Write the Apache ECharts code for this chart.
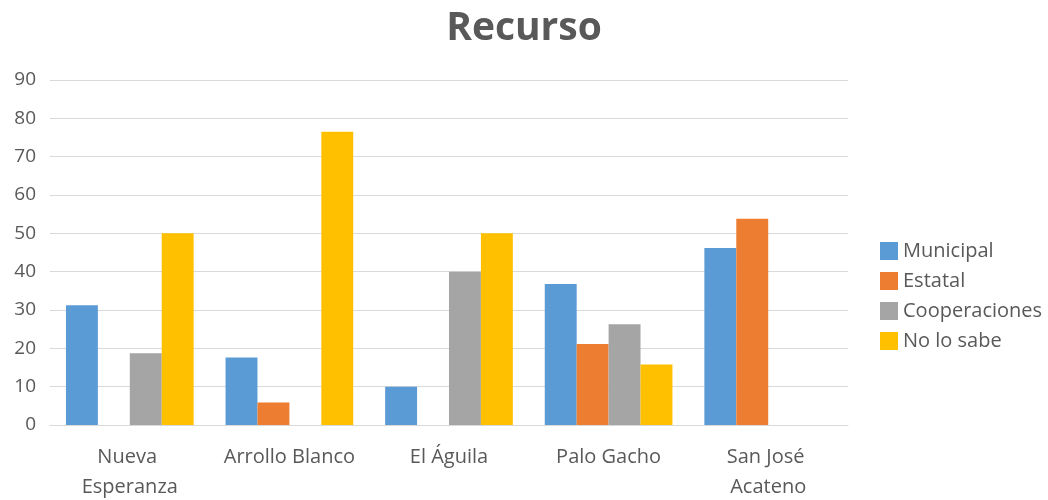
<!DOCTYPE html>
<html>
<head>
<meta charset="utf-8">
<script src="https://cdn.jsdelivr.net/npm/echarts@6/dist/echarts.min.js"></script>
<style>
  html, body { margin: 0; padding: 0; background: #fff; }
  #chart { width: 1048px; height: 500px; }
</style>
</head>
<body>
<div id="chart"></div>
<script>
// datos
const categories = ['Nueva Esperanza', 'Arrollo Blanco', 'El Águila', 'Palo Gacho', 'San José Acateno']
const municipal = [31.25, 17.6, 10, 36.8, 46.2]
const estatal = [0, 5.9, 0, 21.1, 53.8]
const cooperaciones = [18.75, 0, 40, 26.3, 0]
const noLoSabe = [50, 76.5, 50, 15.8, 0]
const yTicks = [0, 10, 20, 30, 40, 50, 60, 70, 80, 90]

const textColor = '#595959'
const font = '"Open Sans", "DejaVu Sans", sans-serif'

const chart = echarts.init(document.getElementById('chart'))

const mkSeries = (name, data, color) => ({
  name,
  type: 'bar',
  data: data.map(v => (v === 0 ? null : v)),
  barGap: '0%',
  barCategoryGap: '20%',
  itemStyle: { color },
  emphasis: { disabled: true },
})

chart.setOption({
  animation: false,
  title: {
    text: 'Recurso',
    left: 'center',
    top: 4,
    textStyle: { color: textColor, fontFamily: font, fontSize: 39, fontWeight: 'bold' },
  },
  legend: {
    orient: 'vertical',
    left: 875,
    top: 236,
    itemWidth: 18,
    itemHeight: 18,
    itemGap: 10,
    icon: 'rect',
    textStyle: { color: textColor, fontFamily: font, fontSize: 20 },
  },
  grid: { left: 50, right: 200, top: 80, bottom: 75, outerBoundsMode: 'none' },
  xAxis: {
    type: 'category',
    data: categories,
    axisLine: { lineStyle: { color: '#d9d9d9' } },
    axisTick: { show: false },
    axisLabel: {
      color: textColor,
      fontFamily: font,
      fontSize: 20,
      margin: 17,
      lineHeight: 30,
      width: 150,
      overflow: 'break',
      interval: 0,
    },
  },
  yAxis: {
    type: 'value',
    min: yTicks[0],
    max: yTicks[yTicks.length - 1],
    interval: 10,
    axisLine: { show: false },
    axisTick: { show: false },
    splitLine: { lineStyle: { color: '#d9d9d9', width: 1 } },
    axisLabel: { color: textColor, fontFamily: font, fontSize: 19, margin: 14 },
  },
  series: [
    mkSeries('Municipal', municipal, '#5B9BD5'),
    mkSeries('Estatal', estatal, '#ED7D31'),
    mkSeries('Cooperaciones', cooperaciones, '#A5A5A5'),
    mkSeries('No lo sabe', noLoSabe, '#FFC000'),
  ],
})
</script>
</body>
</html>
